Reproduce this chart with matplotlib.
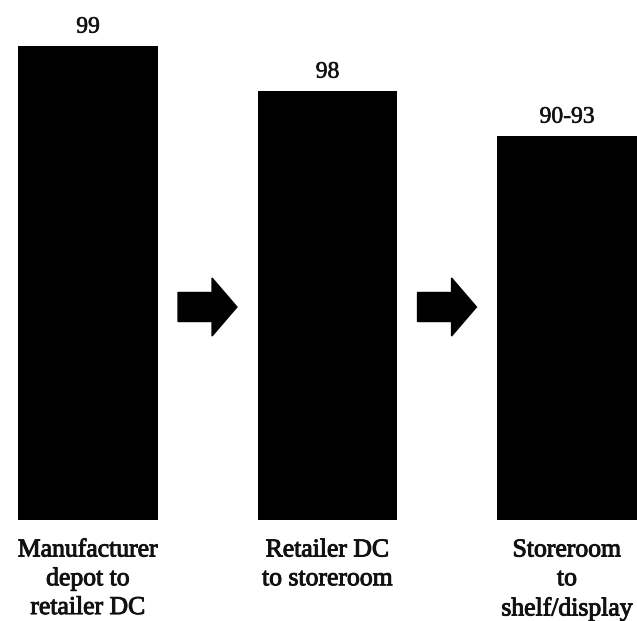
import matplotlib.pyplot as plt
import matplotlib.patheffects as pe
from matplotlib.patches import FancyArrow

# Stages and on-shelf availability (%)
stages = ['Manufacturer\ndepot to\nretailer DC', 'Retailer DC\nto storeroom', 'Storeroom\nto\nshelf/display']
value_labels = ['99', '98', '90-93']
bar_heights = [99, 98, 97]  # drawn height per stage, stepping down

base = 88.467
top = base + 520 / 45

fig = plt.figure(figsize=(6.37, 6.21), dpi=100)
ax = fig.add_axes([0, 101 / 621, 1, 520 / 621])

x = list(range(len(stages)))
width = 140 / 239.5
ax.bar(x, [h - base for h in bar_heights], bottom=base, width=width, color='black')

ax.set_xlim(-88 / 239.5, 2 + 70 / 239.5)
ax.set_ylim(base, top)
ax.axis('off')

ink = '#111111'
font = dict(family='Liberation Serif', color=ink)
thicken = [pe.withStroke(linewidth=0.7, foreground=ink)]

# value labels above bars
for xi, h, lab in zip(x, bar_heights, value_labels):
    ax.annotate(lab, (xi, h), xytext=(0, 6), textcoords='offset points',
                ha='center', va='bottom', fontsize=17,
                path_effects=[pe.withStroke(linewidth=0.4, foreground=ink)], **font)

# stage names under the bars
for xi, name in zip(x, stages):
    ax.annotate(name, (xi, base), xytext=(0, -14), textcoords='offset points',
                ha='center', va='top', fontsize=18.5, linespacing=1.4,
                annotation_clip=False, path_effects=thicken, **font)

# arrows between bars
arrow_y = base + 213 / 45
for xi in x[:-1]:
    a = FancyArrow(xi + 0.376, arrow_y, 0.246, 0, width=29 / 45,
                   head_width=58 / 45, head_length=0.104,
                   length_includes_head=True, color='black')
    ax.add_patch(a)

fig.savefig('out.png', dpi=100)
